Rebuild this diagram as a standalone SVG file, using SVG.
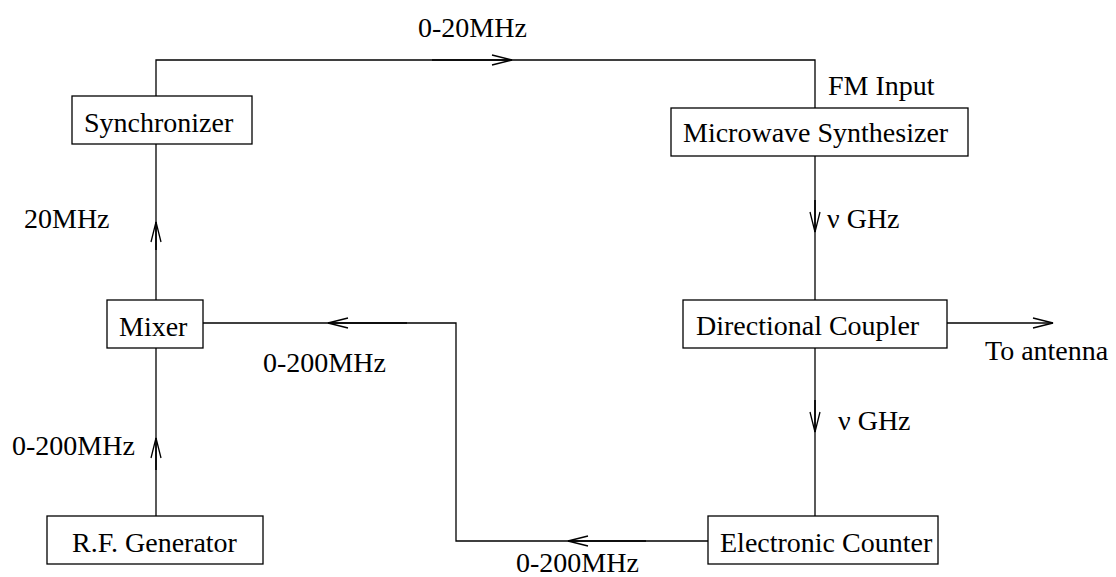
<svg xmlns="http://www.w3.org/2000/svg" width="1116" height="577" viewBox="0 0 1116 577">
<style>
  .box { fill: #ffffff; stroke: #000000; stroke-width: 1.3; }
  .wire { fill: none; stroke: #000000; stroke-width: 1.3; }
  .arr { fill: none; stroke: #000000; stroke-width: 1.6; marker-end: url(#chev); }
  .arrthin { fill: none; stroke: #000000; stroke-width: 1.3; marker-end: url(#chev); }
  .t { font-family: "Liberation Serif", "Times New Roman", serif; font-size: 28px; fill: #000000; }
</style>
<defs>
  <marker id="chev" markerUnits="userSpaceOnUse" markerWidth="24" markerHeight="14" refX="20" refY="6" orient="auto" viewBox="-1 -1 24 14">
    <path d="M0,1 L20,6 L0,11" fill="none" stroke="#000000" stroke-width="1.3"/>
  </marker>
</defs>
<rect width="1116" height="577" fill="#ffffff"/>
<g id="connectors">
  <path class="wire" d="M156,96 V60 H815 V108"/>
  <path class="arr" d="M432,60 H512"/>
  <path class="wire" d="M156,144 V300"/>
  <path class="arr" d="M156,250 V222"/>
  <path class="wire" d="M156,348 V516"/>
  <path class="arr" d="M156,470 V438"/>
  <path class="wire" d="M815,156 V300"/>
  <path class="arr" d="M815,200 V232"/>
  <path class="wire" d="M815,348 V516"/>
  <path class="arr" d="M815,400 V432"/>
  <path class="arrthin" d="M947,323 H1053"/>
  <path class="wire" d="M708,541 H456 V323 H203"/>
  <path class="arr" d="M646,541 H568"/>
  <path class="arr" d="M407,323 H328"/>
  <text class="t" x="418" y="37">0-20MHz</text>
  <text class="t" x="828" y="95">FM Input</text>
  <text class="t" x="827" y="228">ν GHz</text>
  <text class="t" x="838" y="430">ν GHz</text>
  <text class="t" x="985" y="360">To antenna</text>
  <text class="t" x="24" y="228">20MHz</text>
  <text class="t" x="263" y="372">0-200MHz</text>
  <text class="t" x="12" y="455">0-200MHz</text>
  <text class="t" x="516" y="572">0-200MHz</text>
</g>
<g id="synchronizer">
  <rect class="box" x="72" y="96" width="180" height="48"/>
  <text class="t" x="84" y="132">Synchronizer</text>
</g>
<g id="microwave-synthesizer">
  <rect class="box" x="671" y="108" width="297" height="48"/>
  <text class="t" x="683" y="142">Microwave Synthesizer</text>
</g>
<g id="mixer">
  <rect class="box" x="107" y="300" width="96" height="48"/>
  <text class="t" x="119" y="336">Mixer</text>
</g>
<g id="directional-coupler">
  <rect class="box" x="683" y="300" width="264" height="48"/>
  <text class="t" x="696" y="335">Directional Coupler</text>
</g>
<g id="rf-generator">
  <rect class="box" x="47" y="516" width="216" height="48"/>
  <text class="t" x="72" y="552">R.F. Generator</text>
</g>
<g id="electronic-counter">
  <rect class="box" x="708" y="516" width="230" height="48"/>
  <text class="t" x="720" y="552">Electronic Counter</text>
</g>
</svg>
